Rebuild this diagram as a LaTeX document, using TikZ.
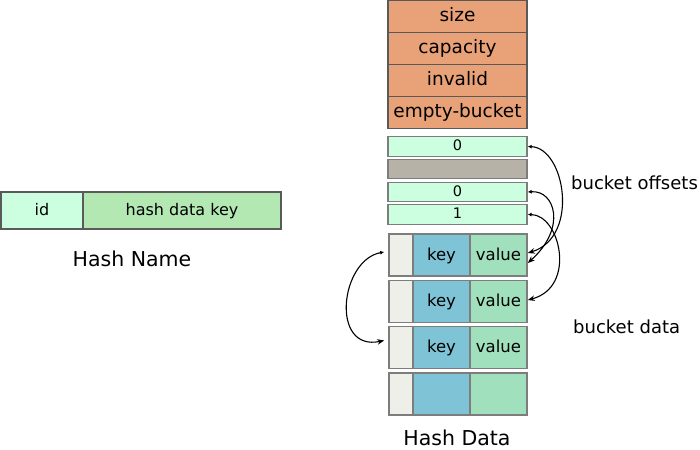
\documentclass[tikz,border=0pt]{standalone}
\usepackage{fontspec}
\setmainfont{DejaVu Sans}
\usetikzlibrary{arrows.meta}
\definecolor{hdr}{RGB}{233,162,120}
\definecolor{offc}{RGB}{204,255,224}
\definecolor{grayc}{RGB}{183,178,168}
\definecolor{flagc}{RGB}{239,239,234}
\definecolor{keyc}{RGB}{127,195,214}
\definecolor{valc}{RGB}{160,224,188}
\definecolor{hdkc}{RGB}{179,232,179}
\definecolor{bordd}{RGB}{90,90,90}
\definecolor{bordl}{RGB}{125,125,125}
\tikzset{
  hdrcell/.style={inner sep=0pt, text height=15pt, text depth=4pt, draw=bordd, line width=1.6pt, fill=hdr, minimum width=139pt, minimum height=32pt, font=\fontsize{18.5}{22}\selectfont},
  offcell/.style={inner sep=0pt, text height=11.5pt, text depth=3pt, draw=bordl, line width=1.3pt, fill=offc, minimum width=139pt, minimum height=19.5pt, font=\fontsize{14.5}{17}\selectfont},
  bcell/.style={inner sep=0pt, text height=13.6pt, text depth=3.5pt, draw=bordl, line width=1.6pt, minimum height=42pt, font=\fontsize{16.5}{19}\selectfont},
  namecell/.style={inner sep=0pt, text height=13pt, text depth=3.4pt, draw=bordd, line width=1.3pt, minimum height=37pt, font=\fontsize{16}{19}\selectfont},
  lbl/.style={inner sep=0pt, font=\fontsize{18}{21}\selectfont},
  title/.style={inner sep=0pt, font=\fontsize{20.5}{24}\selectfont},
  link/.style={line width=1.1pt, {Latex[length=4pt,width=4pt]}-{Stealth[length=7pt,width=5.5pt]}}
}
\begin{document}
\begin{tikzpicture}[x=1pt,y=-1pt]
\useasboundingbox (0,0) rectangle (700,449);
% header
\node[hdrcell] (size) at (457.5,16.5) {size};
\node[hdrcell] (cap) at (457.5,48.5) {capacity};
\node[hdrcell] (inv) at (457.5,80.5) {invalid};
\node[hdrcell] (emp) at (457.5,112.5) {empty-bucket};
% offsets
\node[offcell] (o1) at (457.5,146.5) {0};
\node[offcell, fill=grayc] (o2) at (457.5,169) {};
\node[offcell] (o3) at (457.5,192) {0};
\node[offcell] (o4) at (457.5,214.5) {1};
% buckets
\foreach \i/\y/\k/\v in {1/255/key/value,2/301.5/key/value,3/347.5/key/value,4/394/{}/{}}{
  \node[bcell, fill=flagc, minimum width=24pt] (f\i) at (401,\y) {};
  \node[bcell, fill=keyc, minimum width=57pt] (k\i) at (441.5,\y) {\k};
  \node[bcell, fill=valc, minimum width=57pt] (v\i) at (498.5,\y) {\v};
}
% hash name
\node[namecell, fill=offc, minimum width=82pt] (id) at (42,210.5) {id};
\node[namecell, fill=hdkc, minimum width=198pt] (hdk) at (182,210.5) {hash data key};
\node[title] (hn) at (132,259) {Hash Name};
\node[title] (hd) at (457,437.5) {Hash Data};
\node[lbl, anchor=west] (bo) at (571,183) {bucket offsets};
\node[lbl, anchor=west] (bd) at (573,327) {bucket data};
% connectors
\draw[link] (o1.east) .. controls (565,148) and (580,237) .. ([yshift=2pt]v1.east);
\draw[link] (o3.east) .. controls (555,190) and (567,228) .. ([yshift=-8pt]v1.east);
\draw[link] (o4.east) .. controls (560,215) and (577,287) .. ([yshift=1.5pt]v2.east);
\draw[link] ([xshift=-4pt,yshift=3pt]f1.west) .. controls (340,260) and (330,352) .. ([xshift=-4pt,yshift=7pt]f3.west);
\end{tikzpicture}
\end{document}
